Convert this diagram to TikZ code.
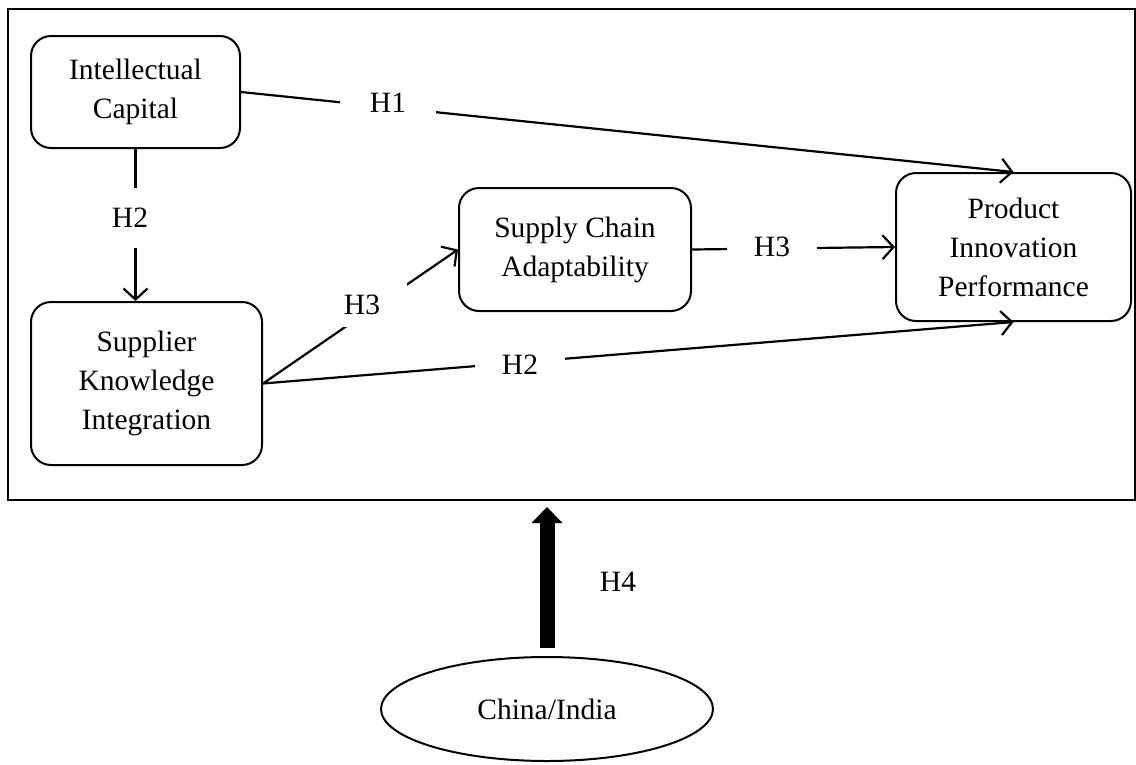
\documentclass[tikz,border=0pt]{standalone}
\usepackage{fontspec}
\setmainfont{Liberation Serif}
\usetikzlibrary{arrows.meta,shapes.geometric}

\begin{document}
\begin{tikzpicture}[x=1pt,y=-1pt,
		construct/.style={draw,rounded corners=20pt,line width=2pt,align=center,inner sep=0pt},
		hlabel/.style={fill=white,inner xsep=27pt,inner ysep=12pt},
		link/.style={line width=2.2pt,-{Straight Barb[length=11pt,width=24pt,line width=2.2pt]}},
		font=\fontsize{29.5}{39}\selectfont]
	\useasboundingbox (0,0) rectangle (1136,764);
	% frame round the model
	\draw[line width=2pt] (8,9) rectangle (1135,500);
	% constructs
	\node[construct,minimum width=209pt,minimum height=112pt] (ic) at (135.5,92) {Intellectual\\Capital};
	\node[construct,minimum width=231pt,minimum height=163pt] (ski) at (146.5,383.5) {Supplier\\Knowledge\\Integration};
	\node[construct,minimum width=232pt,minimum height=123pt] (sca) at (575,249.5) {Supply Chain\\Adaptability};
	\node[construct,minimum width=235pt,minimum height=148pt] (pip) at (1013.5,247) {Product\\Innovation\\Performance};
	\node[draw,ellipse,line width=2pt,minimum width=332pt,minimum height=104pt,inner sep=0pt] (china) at (547,709) {China/India};
	\coordinate (frametop) at (547,507);
	% hypotheses
	\draw[link] (ic.east) -- (pip.north);
	\draw[link] (ic.south) -- (ic.south |- ski.north);
	\draw[link] (ski.east) -- (sca.west);
	\draw[link] (ski.east) -- (pip.south);
	\draw[link] (sca.east) -- (pip.west);
	\draw[line width=15pt,-{Triangle[length=16pt,width=30pt]}] (china.north) ++(0,-8) -- (frametop);
	\node[hlabel,inner xsep=30pt] (h1) at (388,103) {H1};
	\node[hlabel,inner xsep=10pt,inner ysep=20pt] (h2a) at (130,218) {H2};
	\node[hlabel] (h3a) at (362,305) {H3};
	\node[hlabel] (h2b) at (520,365) {H2};
	\node[hlabel] (h3b) at (772,247) {H3};
	\node (h4) at (618,582) {H4};
\end{tikzpicture}
\end{document}
